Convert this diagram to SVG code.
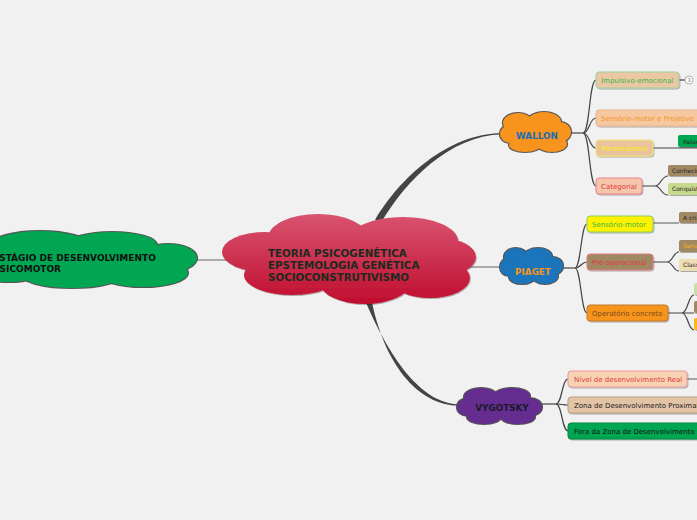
<svg xmlns="http://www.w3.org/2000/svg" width="697" height="520" viewBox="0 0 697 520">
<style>
.ln{fill:none;stroke:#444;stroke-width:1.2}
.lt{fill:none;stroke:#666;stroke-width:1.1}
.t{font-family:"DejaVu Sans",Verdana,sans-serif;font-size:7px}
.ts{font-family:"DejaVu Sans",Verdana,sans-serif;font-size:6px;fill:#222}
.tb{font-family:"DejaVu Sans",Verdana,sans-serif;font-weight:bold}
.cl{fill:#555;stroke:#555;stroke-width:2.2}
.bx{stroke-width:1;filter:url(#sh)}
.sb{filter:url(#sh)}
</style>
<defs>
<linearGradient id="rg" gradientUnits="userSpaceOnUse" x1="0" y1="214" x2="0" y2="304">
<stop offset="0" stop-color="#d85470"/><stop offset="1" stop-color="#c00d2e"/>
</linearGradient>
<filter id="sh" x="-20%" y="-30%" width="140%" height="170%">
<feDropShadow dx="0.8" dy="1" stdDeviation="0.6" flood-color="#000" flood-opacity="0.3"/>
</filter>
</defs>
<rect width="697" height="520" fill="#f1f1f1"/>

<g id="connectors">
<path class="lt" d="M190 260 H228"/>
<path fill="#444" d="M375 220 C400 178 447 134 502 133 L502 134.2 C449 136 406 181 382 221 Z"/>
<path class="lt" d="M470 267 H503"/>
<path fill="#444" d="M364 298 C388 355 420 404 460 404.5 L460 405.7 C417 406 383 362 371 297 Z"/>
<path class="ln" d="M568 133 H583"/>
<path class="ln" d="M583 133 C590 133 589 80 596 80"/>
<path class="ln" d="M583 133 C590 133 589 118 596 118"/>
<path class="ln" d="M583 133 C590 133 589 148 596 148"/>
<path class="ln" d="M583 133 C590 133 589 186 596 186"/>
<path class="ln" d="M679 80 H685"/>
<path class="ln" d="M653 148 H697"/>
<path class="ln" d="M642 186 H655 M655 186 C661 186 661 176 668 176 M655 186 C661 186 661 195 668 195"/>
<path class="ln" d="M560 268 H575"/>
<path class="ln" d="M575 268 C581 268 581 224 587 224"/>
<path class="ln" d="M575 268 C581 268 581 262 587 262"/>
<path class="ln" d="M575 268 C581 268 581 313 587 313"/>
<path class="lt" d="M653 223 H679"/>
<path class="ln" d="M653 262 H667 M667 262 C673 262 673 252 679 252 M667 262 C673 262 673 271 679 271"/>
<path class="ln" d="M668 313 H682 M682 313 C688 313 688 295 694 295 M682 313 H694 M682 313 C688 313 688 330 694 330"/>
<path class="ln" d="M540 404 H556"/>
<path class="ln" d="M556 404 C562 404 562 379 568 379"/>
<path class="ln" d="M556 404 C562 404 562 405 568 405"/>
<path class="ln" d="M556 404 C562 404 562 431 568 431"/>
<path class="lt" d="M687 379 H697"/>
</g>

<g id="estagio">
<g class="cl">
<ellipse cx="40" cy="246" rx="50" ry="15"/><ellipse cx="112" cy="245" rx="45" ry="13"/><ellipse cx="168" cy="258" rx="29" ry="14"/><ellipse cx="143" cy="273" rx="45" ry="14"/><ellipse cx="72" cy="275" rx="50" ry="13"/><ellipse cx="8" cy="268" rx="38" ry="14"/><ellipse cx="90" cy="259" rx="92" ry="20"/>
</g>
<g fill="#00a651">
<ellipse cx="40" cy="246" rx="50" ry="15"/><ellipse cx="112" cy="245" rx="45" ry="13"/><ellipse cx="168" cy="258" rx="29" ry="14"/><ellipse cx="143" cy="273" rx="45" ry="14"/><ellipse cx="72" cy="275" rx="50" ry="13"/><ellipse cx="8" cy="268" rx="38" ry="14"/><ellipse cx="90" cy="259" rx="92" ry="20"/>
</g>
<text class="tb" font-size="9" fill="#111"><tspan x="-7" y="261">ESTÁGIO DE DESENVOLVIMENTO</tspan><tspan x="-7" y="272">PSICOMOTOR</tspan></text>
</g>

<g id="center">
<g fill="url(#rg)" class="sb">
<ellipse cx="265" cy="252" rx="43" ry="20"/><ellipse cx="318" cy="238" rx="50" ry="24"/><ellipse cx="403" cy="241" rx="55" ry="24"/><ellipse cx="440" cy="257" rx="36" ry="19"/><ellipse cx="292" cy="275" rx="48" ry="20"/><ellipse cx="365" cy="283" rx="45" ry="21"/><ellipse cx="430" cy="278" rx="40" ry="20"/><ellipse cx="350" cy="260" rx="105" ry="30"/>
</g>
<text class="tb" font-size="10.3" fill="#1c2a1e"><tspan x="268" y="257">TEORIA PSICOGENÉTICA</tspan><tspan x="268" y="269">EPSTEMOLOGIA GENÉTICA</tspan><tspan x="268" y="281">SOCIOCONSTRUTIVISMO</tspan></text>
</g>

<g id="wallon">
<g class="cl">
<ellipse cx="518" cy="123" rx="15" ry="10"/><ellipse cx="544" cy="122" rx="17" ry="10"/><ellipse cx="560" cy="132" rx="11" ry="10"/><ellipse cx="552" cy="144" rx="15" ry="8"/><ellipse cx="525" cy="145" rx="16" ry="7"/><ellipse cx="510" cy="134" rx="10" ry="9"/><ellipse cx="536" cy="133" rx="26" ry="13"/>
</g>
<g fill="#f7941d">
<ellipse cx="518" cy="123" rx="15" ry="10"/><ellipse cx="544" cy="122" rx="17" ry="10"/><ellipse cx="560" cy="132" rx="11" ry="10"/><ellipse cx="552" cy="144" rx="15" ry="8"/><ellipse cx="525" cy="145" rx="16" ry="7"/><ellipse cx="510" cy="134" rx="10" ry="9"/><ellipse cx="536" cy="133" rx="26" ry="13"/>
</g>
<text class="tb" font-size="8.8" fill="#1c6db3" x="537" y="139" text-anchor="middle">WALLON</text>
</g>

<g id="piaget">
<g class="cl">
<ellipse cx="516" cy="257" rx="12" ry="9"/><ellipse cx="538" cy="256" rx="14" ry="8"/><ellipse cx="553" cy="266" rx="10" ry="9"/><ellipse cx="545" cy="276" rx="13" ry="8"/><ellipse cx="522" cy="277" rx="13" ry="7"/><ellipse cx="509" cy="267" rx="9" ry="9"/><ellipse cx="531" cy="266" rx="22" ry="12"/>
</g>
<g fill="#1b75bb">
<ellipse cx="516" cy="257" rx="12" ry="9"/><ellipse cx="538" cy="256" rx="14" ry="8"/><ellipse cx="553" cy="266" rx="10" ry="9"/><ellipse cx="545" cy="276" rx="13" ry="8"/><ellipse cx="522" cy="277" rx="13" ry="7"/><ellipse cx="509" cy="267" rx="9" ry="9"/><ellipse cx="531" cy="266" rx="22" ry="12"/>
</g>
<text class="tb" font-size="8.8" fill="#f7941d" x="533" y="275" text-anchor="middle">PIAGET</text>
</g>

<g id="vygotsky">
<g class="cl">
<ellipse cx="481" cy="397" rx="17" ry="9"/><ellipse cx="512" cy="396" rx="18" ry="8"/><ellipse cx="530" cy="407" rx="12" ry="9"/><ellipse cx="518" cy="417" rx="17" ry="7"/><ellipse cx="484" cy="417" rx="17" ry="7"/><ellipse cx="468" cy="407" rx="11" ry="9"/><ellipse cx="500" cy="406" rx="30" ry="13"/>
</g>
<g fill="#662d91">
<ellipse cx="481" cy="397" rx="17" ry="9"/><ellipse cx="512" cy="396" rx="18" ry="8"/><ellipse cx="530" cy="407" rx="12" ry="9"/><ellipse cx="518" cy="417" rx="17" ry="7"/><ellipse cx="484" cy="417" rx="17" ry="7"/><ellipse cx="468" cy="407" rx="11" ry="9"/><ellipse cx="500" cy="406" rx="30" ry="13"/>
</g>
<text class="tb" font-size="8.8" fill="#1a1a2a" x="502" y="411" text-anchor="middle">VYGOTSKY</text>
</g>

<g id="impulsivo">
<rect class="bx" x="596" y="72" width="83" height="16" rx="3" fill="#ebc8a3" stroke="#98d39b"/>
<text class="t" x="601" y="83" fill="#3ab54a">Impulsivo-emocional</text>
<circle cx="689" cy="80" r="4" fill="#fff" stroke="#999" stroke-width="0.8"/>
<text x="689" y="82" font-family="DejaVu Sans,sans-serif" font-size="5" fill="#666" text-anchor="middle">3</text>
</g>
<g id="sensorio-projetivo">
<rect class="bx" x="596" y="110" width="112" height="16" rx="3" fill="#f5c8a2" stroke="#eab48a"/>
<text class="t" x="601" y="121" fill="#f7941d">Sensório-motor e Projetivo</text>
</g>
<g id="personalismo">
<rect class="bx" x="596" y="140" width="57" height="16" rx="3" fill="#e9c49f" stroke="#f3e36b"/>
<text class="t" x="601" y="151" fill="#fff200">Personalismo</text>
</g>
<g id="relacoes">
<rect class="bx" x="678" y="135" width="40" height="12" rx="2" fill="#00a651"/>
<text class="ts" x="683" y="143.5">Relações</text>
</g>
<g id="categorial">
<rect class="bx" x="596" y="178" width="46" height="16" rx="3" fill="#f4c6ab" stroke="#e8818a"/>
<text class="t" x="601" y="189" fill="#e2393f">Categorial</text>
</g>
<g id="conhecimento">
<rect class="bx" x="668" y="165" width="40" height="11" rx="2" fill="#a08863"/>
<text class="ts" x="672" y="172.5">Conhecimento</text>
</g>
<g id="conquista">
<rect class="bx" x="668" y="183" width="40" height="12" rx="2" fill="#c6d98c"/>
<text class="ts" x="672" y="191">Conquista</text>
</g>

<g id="sensorio-motor">
<rect class="bx" x="587" y="216" width="66" height="16" rx="3" fill="#fff200" stroke="#8ccf5f"/>
<text class="t" x="592" y="227" fill="#39b54a">Sensório-motor</text>
</g>
<g id="a-crianca">
<rect class="bx" x="679" y="212" width="30" height="11" rx="2" fill="#a08863"/>
<text class="ts" x="683" y="219.5">A criança</text>
</g>
<g id="pre-operacional">
<rect class="bx" x="587" y="254" width="66" height="16" rx="3" fill="#a08863" stroke="#e27c85"/>
<text class="t" x="592" y="265" fill="#e0393e">Pré-operacional</text>
</g>
<g id="seriacao">
<rect class="bx" x="679" y="240" width="30" height="12" rx="2" fill="#a08863"/>
<text class="ts" x="683" y="248" style="fill:#f7b51d">Seriação</text>
</g>
<g id="classificacao">
<rect class="bx" x="679" y="259" width="30" height="12" rx="2" fill="#eedcb3"/>
<text class="ts" x="683" y="267">Classificação</text>
</g>
<g id="operatorio">
<rect class="bx" x="587" y="305" width="81" height="16" rx="3" fill="#f7941d" stroke="#c17a35"/>
<text class="t" x="592" y="316" fill="#7b4a1c">Operatório concreto</text>
</g>
<g id="op1"><rect class="bx" x="694" y="283" width="20" height="12" rx="2" fill="#c5e1a5"/></g>
<g id="op2"><rect class="bx" x="694" y="301" width="20" height="12" rx="2" fill="#a08863"/></g>
<g id="op3"><rect class="bx" x="694" y="318" width="20" height="12" rx="2" fill="#fdb913"/></g>

<g id="nivel">
<rect class="bx" x="568" y="371" width="119" height="16" rx="3" fill="#f7d2b3" stroke="#eb99a0"/>
<text class="t" x="574" y="382" fill="#e0393e">Nível de desenvolvimento Real</text>
</g>
<g id="zona">
<rect class="bx" x="568" y="397" width="140" height="16" rx="3" fill="#e3c4a6" stroke="#b99d80"/>
<text class="t" x="574" y="408" fill="#222">Zona de Desenvolvimento Proximal</text>
</g>
<g id="fora">
<rect class="bx" x="568" y="423" width="140" height="16" rx="3" fill="#00a651" stroke="#008a43"/>
<text class="t" x="574" y="434" fill="#111">Fora da Zona de Desenvolvimento</text>
</g>
</svg>
